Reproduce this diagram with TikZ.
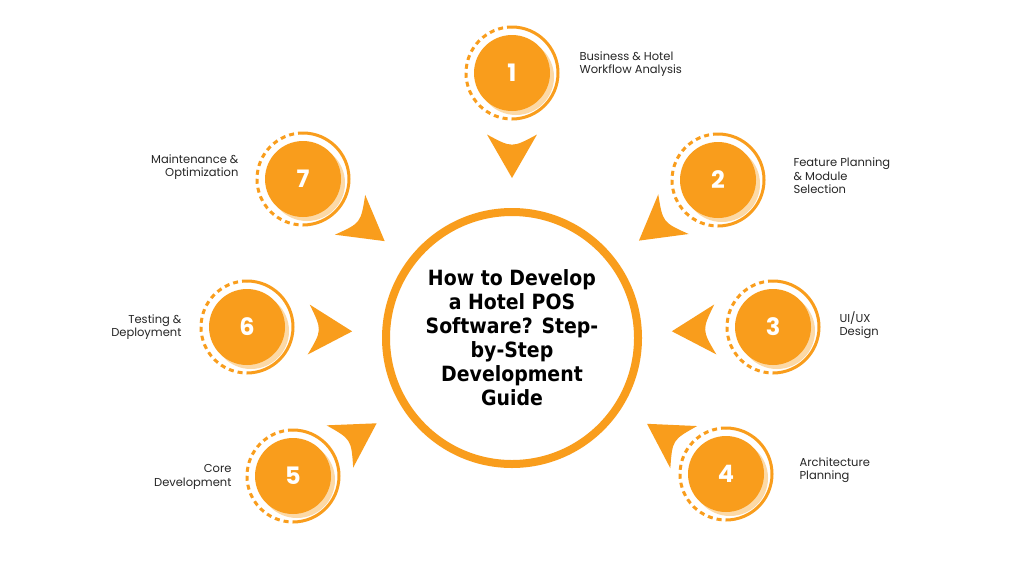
\documentclass[tikz,border=0pt]{standalone}
\usepackage{fontspec}
\setmainfont{Poppins}
\newfontfamily\cond{DejaVu Sans Condensed}
\usetikzlibrary{calc}
\definecolor{org}{HTML}{F99D1C}
\definecolor{pale}{HTML}{FCD9A6}
\tikzset{
  lbl/.style={font=\fontsize{11.5}{13.5}\selectfont, text=black!85},
  num/.style={circle, fill=org, minimum size=76pt, inner sep=0pt, text=white, font=\fontsize{24}{24}\selectfont\bfseries},
}
\newcommand{\stepc}[3]{%
  \fill[pale] ($(#2)+(4,4)$) circle (38);
  \node[num] (#1) at (#2) {#3};
  \draw[org, line width=3pt] ($(#1.center)+(0,-46)$) arc[start angle=-90, end angle=90, radius=46];
  \draw[org, line width=3pt, dash pattern=on 5pt off 4pt] ($(#1.center)+(0,-46)$) arc[start angle=-90, end angle=-270, radius=46];
  \fill[org] ($(c)!160pt!(#1)$) -- ($(c)!205pt!7:(#1)$) .. controls ($(c)!190pt!(#1)$) .. ($(c)!205pt!-7:(#1)$) -- cycle;
}
\begin{document}
\begin{tikzpicture}[x=1pt,y=-1pt]
\useasboundingbox (0,0) rectangle (1024,573);
\fill[white] (0,0) rectangle (1024,573);
\node[circle, draw=org, line width=8pt, minimum size=252pt, inner sep=0pt] (c) at (512,338) {};
\node[align=center, font=\cond\bfseries\fontsize{21}{24}\selectfont] (title) at (c) {How to Develop\\a Hotel POS\\Software? Step-\\by-Step\\Development\\Guide};
\stepc{n1}{512,73}{1}
\stepc{n2}{718,180}{2}
\stepc{n3}{773,327}{3}
\stepc{n4}{726,474}{4}
\stepc{n5}{293,476}{5}
\stepc{n6}{247,327}{6}
\stepc{n7}{303,179}{7}
\node[lbl, anchor=west, align=left] (l1) at (576,64) {Business \& Hotel\\Workflow Analysis};
\node[lbl, anchor=west, align=left] (l2) at (790,176) {Feature Planning\\\& Module\\Selection};
\node[lbl, anchor=west, align=left] (l3) at (836,325) {UI/UX\\Design};
\node[lbl, anchor=west, align=left] (l4) at (796,470) {Architecture\\Planning};
\node[lbl, anchor=east, align=right] (l5) at (235,477) {Core\\Development};
\node[lbl, anchor=east, align=right] (l6) at (185,327) {Testing \&\\Deployment};
\node[lbl, anchor=east, align=right] (l7) at (242,167) {Maintenance \&\\Optimization};
\end{tikzpicture}
\end{document}
